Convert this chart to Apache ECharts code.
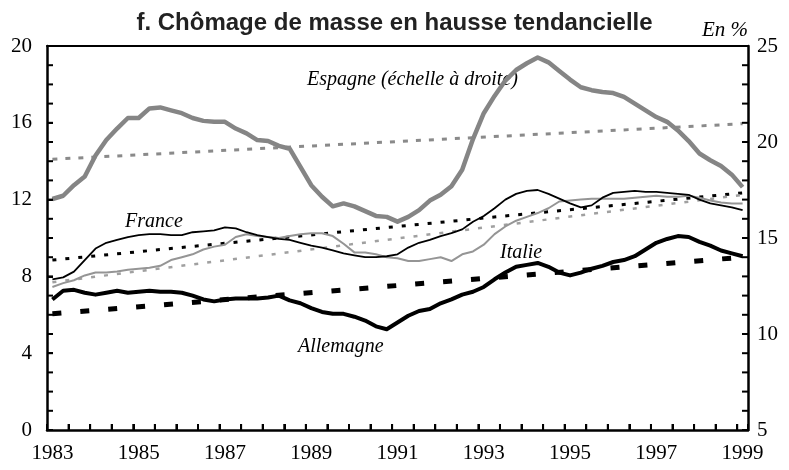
<!DOCTYPE html>
<html>
<head>
<meta charset="utf-8">
<script src="https://cdn.jsdelivr.net/npm/echarts@6/dist/echarts.min.js"></script>
<style>html,body{margin:0;padding:0;background:#fff;}#c{width:789px;height:470px;}</style>
</head>
<body>
<div id="c"></div>
<script>
// Quarterly categories 1983T1 .. 1999T1
const firstYear = 1983, lastYear = 1999;
const categories = [];
for (let y = firstYear; y <= lastYear; y++) {
  for (let q = 1; q <= 4; q++) {
    if (y === lastYear && q > 1) break;
    categories.push(y + 'T' + q);
  }
}
const xTickLabels = ['1983','1985','1987','1989','1991','1993','1995','1997','1999'];
const leftTicks = [0, 4, 8, 12, 16, 20];
const rightTicks = [5, 10, 15, 20, 25];

// Unemployment rates (%)
const espagne = [17.03,17.2,17.75,18.2,19.3,20.1,20.7,21.25,21.25,21.75,21.8,21.65,21.5,21.25,21.1,21.05,
  21.05,20.7,20.45,20.1,20.05,19.8,19.65,18.7,17.75,17.15,16.65,16.8,16.65,16.4,16.15,16.1,
  15.85,16.1,16.45,16.95,17.25,17.7,18.55,20.15,21.5,22.4,23.2,23.75,24.1,24.4,24.15,23.7,
  23.25,22.85,22.7,22.6,22.55,22.35,22.0,21.65,21.3,21.05,20.6,20.05,19.4,19.05,18.75,18.3,17.65];
const france = [7.85,7.95,8.25,8.85,9.45,9.75,9.9,10.05,10.15,10.2,10.2,10.15,10.15,10.3,10.35,10.4,
  10.55,10.5,10.3,10.15,10.05,9.95,9.9,9.75,9.6,9.5,9.35,9.2,9.1,9.0,9.0,9.05,
  9.15,9.5,9.75,9.9,10.1,10.25,10.45,10.85,11.15,11.55,12.0,12.3,12.45,12.5,12.3,12.05,
  11.8,11.6,11.7,12.1,12.35,12.4,12.45,12.4,12.4,12.35,12.3,12.25,12.0,11.8,11.7,11.6,11.45];
const italie = [7.45,7.65,7.8,8.05,8.2,8.2,8.25,8.35,8.4,8.45,8.55,8.85,9.0,9.15,9.4,9.55,
  9.65,10.05,10.2,10.1,10.05,10.0,10.1,10.2,10.25,10.25,10.1,9.7,9.25,9.25,9.15,9.0,
  8.95,8.8,8.8,8.9,9.0,8.8,9.15,9.3,9.65,10.2,10.6,10.9,11.1,11.3,11.55,11.9,
  11.95,12.0,12.05,12.05,12.05,12.05,12.1,12.15,12.2,12.15,12.15,12.2,12.1,11.95,11.85,11.8,11.8];
const allemagne = [6.8,7.25,7.3,7.15,7.05,7.15,7.25,7.15,7.2,7.25,7.2,7.2,7.15,7.0,6.8,6.7,
  6.8,6.85,6.85,6.85,6.9,7.0,6.75,6.6,6.35,6.15,6.05,6.05,5.9,5.7,5.4,5.25,
  5.6,5.95,6.2,6.3,6.6,6.8,7.05,7.2,7.45,7.85,8.2,8.5,8.6,8.7,8.5,8.2,
  8.05,8.2,8.4,8.55,8.75,8.85,9.05,9.4,9.75,9.95,10.1,10.05,9.8,9.6,9.35,9.2,9.05];

// Linear trends: values at the first and last quarter
const trendEspagne = [19.1, 20.95];
const trendFrance = [8.85, 12.35];
const trendItalie = [7.7, 12.25];
const trendAllemagne = [6.05, 9.0];

const first = categories[0], last = categories[categories.length - 1];
const tr = a => [[first, a[0]], [last, a[1]]];

// Tick-mark positions (axis units), drawn through the axes' own scales
const leftTickData = [], rightTickData = [], bottomTickData = [];
for (let v = leftTicks[0] + 1; v < leftTicks[leftTicks.length - 1]; v++) leftTickData.push([first, v]);
for (let v = rightTicks[0] + 1; v < rightTicks[rightTicks.length - 1]; v++) rightTickData.push([last, v]);
for (let i = 2; i < categories.length; i += 2) bottomTickData.push([categories[i], leftTicks[0]]);

const serif = 'Liberation Serif';
const chart = echarts.init(document.getElementById('c'));

function trendSeries(name, arr, yIdx, color, width, dash) {
  return {name, type: 'line', yAxisIndex: yIdx, data: tr(arr), symbol: 'none', silent: true,
    lineStyle: {color, width, type: dash}, z: 2};
}
function lineSeries(name, arr, yIdx, color, width) {
  return {name, type: 'line', yAxisIndex: yIdx, data: arr, symbol: 'none', silent: true,
    lineStyle: {color, width, join: 'round'}, z: 3};
}
const TL = 6, TW = 2;
function tickSeries(name, data, yIdx, side) {
  return {name, type: 'custom', yAxisIndex: yIdx, data, silent: true, clip: false, z: 10,
    renderItem: (params, api) => {
      const p = api.coord([api.value(0), api.value(1)]);
      const band = api.size([1, 0])[0];
      let shape;
      if (side === 'left') shape = {x: p[0] - band / 2, y: p[1] - TW / 2, width: TL, height: TW};
      else if (side === 'right') shape = {x: p[0] + band / 2 - TL, y: p[1] - TW / 2, width: TL, height: TW};
      else shape = {x: p[0] - band / 2 - TW / 2, y: p[1] - TL, width: TW, height: TL};
      return {type: 'rect', shape, style: {fill: '#000'}};
    }};
}

chart.setOption({
  animation: false,
  backgroundColor: '#fff',
  title: {
    text: 'f. Chômage de masse en hausse tendancielle',
    left: 'center', top: 6,
    textStyle: {fontFamily: 'Liberation Sans', fontWeight: 'bold', fontSize: 24, color: '#222'}
  },
  grid: {left: 47, right: 41, top: 46, bottom: 40},
  xAxis: [{
    type: 'category', data: categories, boundaryGap: true,
    axisLine: {show: true, lineStyle: {color: '#000', width: 2.5}},
    axisTick: {show: true, inside: true, interval: 1, length: TL, lineStyle: {color: '#000', width: TW}},
    axisLabel: {interval: 7, margin: 13, color: '#000', fontFamily: serif, fontSize: 21,
      formatter: v => v.slice(0, 4)},
    splitLine: {show: false}
  }, {
    type: 'category', data: categories, boundaryGap: true, position: 'top',
    axisLine: {show: true, lineStyle: {color: '#000', width: 2}},
    axisTick: {show: false}, axisLabel: {show: false}, splitLine: {show: false}
  }],
  yAxis: [
    {type: 'value', min: leftTicks[0], max: leftTicks[leftTicks.length - 1], interval: 4,
      axisLine: {show: true, lineStyle: {color: '#000', width: 2.5}},
      axisTick: {show: true, inside: true, length: TL, lineStyle: {color: '#000', width: TW}},
      axisLabel: {margin: 15, color: '#000', fontFamily: serif, fontSize: 21},
      splitLine: {show: false}},
    {type: 'value', min: rightTicks[0], max: rightTicks[rightTicks.length - 1], interval: 5,
      axisLine: {show: true, lineStyle: {color: '#000', width: 2.5}},
      axisTick: {show: true, inside: true, length: TL, lineStyle: {color: '#000', width: TW}},
      axisLabel: {margin: 9, color: '#000', fontFamily: serif, fontSize: 21},
      splitLine: {show: false}}
  ],
  series: [
    trendSeries('Tendance Espagne', trendEspagne, 1, '#8a8a8a', 3, [5, 8]),
    trendSeries('Tendance France', trendFrance, 0, '#000', 3, [4, 9]),
    trendSeries('Tendance Italie', trendItalie, 0, '#a0a0a0', 2.5, [4, 9]),
    trendSeries('Tendance Allemagne', trendAllemagne, 0, '#000', 5, [9, 19]),
    lineSeries('Italie', italie, 0, '#959595', 2),
    lineSeries('France', france, 0, '#000', 1.8),
    lineSeries('Allemagne', allemagne, 0, '#000', 4),
    lineSeries('Espagne', espagne, 1, '#858585', 4.5),
    tickSeries('ticksLeft', leftTickData, 0, 'left'),
    tickSeries('ticksRight', rightTickData, 1, 'right'),
    tickSeries('ticksBottom', bottomTickData, 0, 'bottom')
  ],
  graphic: [
    {type: 'text', style: {x: 307, y: 80, text: 'Espagne (échelle à droite)', fill: '#000',
      font: 'italic 20px ' + serif, textVerticalAlign: 'middle'}},
    {type: 'text', style: {x: 125, y: 222, text: 'France', fill: '#000',
      font: 'italic 20px ' + serif, textVerticalAlign: 'middle'}},
    {type: 'text', style: {x: 500, y: 253, text: 'Italie', fill: '#000',
      font: 'italic 20px ' + serif, textVerticalAlign: 'middle'}},
    {type: 'text', style: {x: 298, y: 347, text: 'Allemagne', fill: '#000',
      font: 'italic 20px ' + serif, textVerticalAlign: 'middle'}},
    {type: 'text', style: {x: 748, y: 30, text: 'En %', fill: '#000', textAlign: 'right',
      font: 'italic 21px ' + serif, textVerticalAlign: 'middle'}}
  ]
});
</script>
</body>
</html>
